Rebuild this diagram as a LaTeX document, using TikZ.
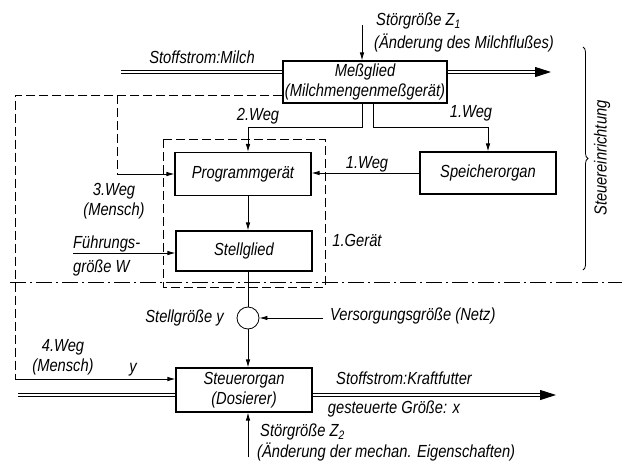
\documentclass[tikz,border=0pt]{standalone}
\usepackage{fontspec}
\setmainfont[FakeStretch=0.84]{Liberation Sans}
\usetikzlibrary{arrows.meta,decorations.pathreplacing}
\begin{document}
\begin{tikzpicture}[x=1pt,y=-1pt,
  every node/.style={font=\itshape\fontsize{17.5}{20}\selectfont,inner sep=0pt},
  blk/.style={draw,line width=1.1pt,minimum width=136pt,minimum height=43pt,align=center},
  con/.style={line width=0.8pt},
  arr/.style={con,-{Latex[length=8pt,width=4.5pt]}},
  dbl/.style={double,double distance=2.4pt,line width=0.7pt},
  bigtip/.style={line width=1pt,-{Triangle[length=16pt,width=10pt]}},
  mensch/.style={line width=0.8pt,dash pattern=on 9pt off 4pt},
  grenze/.style={line width=0.8pt,dash pattern=on 16pt off 4pt on 2pt off 4pt}]
\useasboundingbox (0,0) rectangle (622,475);

\node[blk,minimum width=164pt,minimum height=42pt] (mess) at (365,82) {Meßglied\\(Milchmengenmeßgerät)};
\node[blk] (prog) at (243,174) {Programmgerät};
\node[blk,minimum height=40pt] (stell) at (244,251) {Stellglied};
\node[blk,minimum height=42pt] (speicher) at (488,173) {Speicherorgan};
\node[blk,minimum height=44pt] (steuer) at (244,390) {Steuerorgan\\(Dosierer)};
\node[draw,circle,con,minimum size=22pt] (kreis) at (248,318) {};

\coordinate (milchein) at (121,72);
\coordinate (milchaus) at (551,72);
\coordinate (futterein) at (18,395);
\coordinate (futteraus) at (556,395);
\coordinate (z1) at (362,25);
\coordinate (z2) at (248,457);
\coordinate (w2) at (362,127);
\coordinate (w1) at (373,127);
\coordinate (m3) at (117,95);
\coordinate (m4) at (15,95);
\coordinate (e4) at (15,379);
\coordinate (fw) at (73,253);
\coordinate (netz) at (323,318);
\coordinate (gl) at (10,282);
\coordinate (gr) at (622,282);

\draw[dbl] (milchein) -- (mess.west |- milchein);
\draw[dbl] (mess.east |- milchaus) -- ([xshift=-12]milchaus);
\draw[bigtip] ([xshift=-14]milchaus) -- (milchaus);
\draw[dbl] (futterein) -- (futterein -| steuer.west);
\draw[dbl] (futterein -| steuer.east) -- ([xshift=-12]futteraus);
\draw[bigtip] ([xshift=-14]futteraus) -- (futteraus);

\draw[arr] (z1) -- (z1 |- mess.north);
\draw[arr] (z2) -- (z2 |- steuer.south);
\draw[arr] (mess.south -| w2) -- (w2) -| (prog.north -| kreis);
\draw[arr] (mess.south -| w1) -- (w1) -| (speicher.north);
\draw[arr] (speicher.west) -- (speicher.west -| prog.east);
\draw[arr] (prog.south -| kreis) -- (stell.north -| kreis);
\draw[con] (stell.south -| kreis) -- (kreis.north);
\draw[arr] (kreis.south) -- (steuer.north -| kreis);
\draw[arr] (netz) -- (kreis.east);
\draw[arr] (fw) -- (fw -| stell.west);

\draw[mensch] (mess.west |- m3) -- (m4) -- (e4);
\draw[mensch] (m3) -- (m3 |- prog.west);
\draw[arr] (m3 |- prog.west) -- (prog.west);
\draw[arr] (e4) -- (e4 -| steuer.west);

\draw[mensch] (163,139) rectangle (325,287);
\draw[grenze] (gl) -- (gr);
\draw[con,decorate,decoration={brace,amplitude=5pt}] (583,47) -- (583,270);

\node (milch) at (202,57) {Stoffstrom:Milch};
\node[anchor=west] (stz1) at (376,21) {Störgröße Z\textsubscript{1}};
\node (aend1) at (464,43) {(Änderung des Milchflußes)};
\node (weg2) at (258,116) {2.Weg};
\node (weg1a) at (471,113) {1.Weg};
\node (weg1b) at (367,164) {1.Weg};
\node[align=center] (weg3) at (114,201) {3.Weg\\(Mensch)};
\node[anchor=base west] (fuehr) at (73,248) {Führungs-};
\node[anchor=base west] (fuehr2) at (73,272) {größe W};
\node (geraet) at (357,240) {1.Gerät};
\node[anchor=east] (stgr) at (224,318) {Stellgröße y};
\node[anchor=west] (vers) at (330,316) {Versorgungsgröße (Netz)};
\node[align=center] (weg4) at (63,357) {4.Weg\\(Mensch)};
\node (ygr) at (133,370) {y};
\node (kraft) at (404,378) {Stoffstrom:Kraftfutter};
\node (xgr) at (394,409) {gesteuerte Größe: x};
\node[anchor=west] (stz2) at (260,432) {Störgröße Z\textsubscript{2}};
\node[anchor=west] (aend2) at (257,452) {(Änderung der mechan. Eigenschaften)};
\node[rotate=90] (steuereinr) at (602,158) {Steuereinrichtung};
\end{tikzpicture}
\end{document}
